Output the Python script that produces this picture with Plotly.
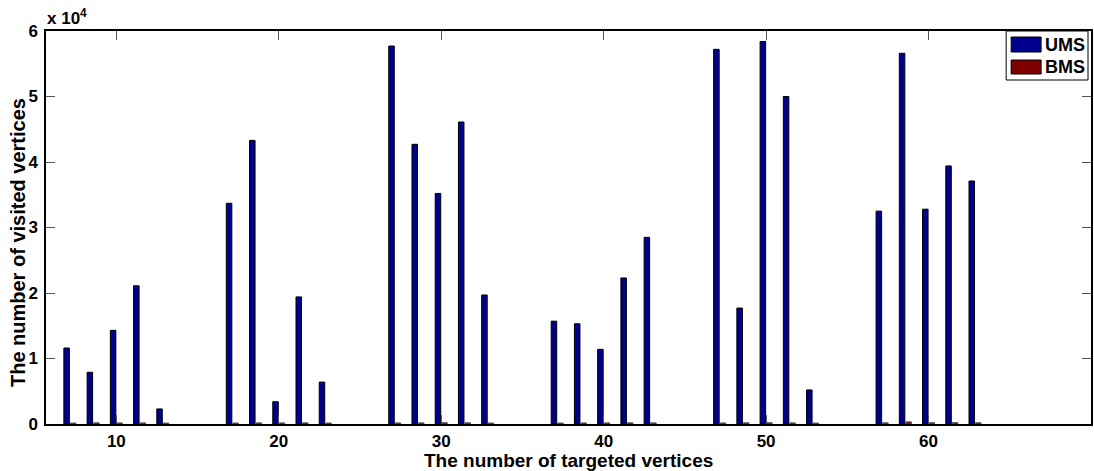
import plotly.graph_objects as go

# ---- data ----
x_pos = [7.14, 8.57, 10.0, 11.43, 12.86,
         17.14, 18.57, 20.0, 21.43, 22.86,
         27.14, 28.57, 30.0, 31.43, 32.86,
         37.14, 38.57, 40.0, 41.43, 42.86,
         47.14, 48.57, 50.0, 51.43, 52.86,
         57.14, 58.57, 60.0, 61.43, 62.86]
ums = [11600, 7900, 14300, 21100, 2300,
       33700, 43300, 3400, 19400, 6400,
       57700, 42700, 35200, 46100, 19700,
       15700, 15300, 11400, 22300, 28500,
       57200, 17700, 58400, 50000, 5200,
       32500, 56600, 32800, 39400, 37100]
bms = [150, 180, 160, 170, 140,
       150, 170, 160, 180, 150,
       160, 170, 200, 180, 150,
       150, 160, 170, 180, 170,
       160, 180, 190, 170, 140,
       180, 320, 200, 210, 190]
y_ticks = [0, 10000, 20000, 30000, 40000, 50000, 60000]
y_tick_text = ["0", "1", "2", "3", "4", "5", "6"]
x_ticks = [10, 20, 30, 40, 50, 60]
series_names = ["UMS", "BMS"]
colors = ["#00008F", "#800000"]

FONT = "Liberation Sans, Arial, sans-serif"
W, H = 1094, 471
L, R, T, B = 46, 1093, 31, 424  # plot area in px


def px(xp):
    return (xp - L) / (R - L)


def py(yp):
    return (B - yp) / (B - T)


fig = go.Figure()
fig.add_trace(go.Bar(x=x_pos, y=ums, name=series_names[0], width=0.34, offset=-0.37,
                     marker=dict(color=colors[0], line=dict(color="black", width=1)),
                     showlegend=False))
fig.add_trace(go.Bar(x=x_pos, y=bms, name=series_names[1], width=0.34, offset=0.03,
                     marker=dict(color=colors[1], line=dict(color="#555555", width=1)),
                     showlegend=False))

tick_font = dict(family=FONT, size=17, color="black", weight="bold")
axis_common = dict(showline=True, linecolor="black", linewidth=1.5, mirror="ticks",
                   ticks="inside", ticklen=9, tickcolor="#555555", tickwidth=1,
                   showgrid=False, zeroline=False, tickfont=tick_font)

fig.update_layout(
    width=W, height=H,
    margin=dict(l=L, r=W - R, t=T, b=H - B, pad=0),
    paper_bgcolor="white", plot_bgcolor="white",
    barmode="overlay",
    font=dict(family=FONT, color="black"),
    xaxis=dict(range=[5.67, 70], tickvals=x_ticks, ticktext=[str(v) for v in x_ticks],
               ticklabelstandoff=1, **axis_common),
    yaxis=dict(range=[0, 60000], tickvals=y_ticks, ticktext=y_tick_text,
               ticklabelstandoff=3, **axis_common),
)

annotations = [
    dict(text="<b>The number of targeted vertices</b>", xref="paper", yref="paper",
         x=px(570), y=py(460), xanchor="center", yanchor="middle", showarrow=False,
         font=dict(family=FONT, size=19, color="black")),
    dict(text="<b>The number of visited vertices</b>", xref="paper", yref="paper",
         x=px(18), y=py(243), xanchor="center", yanchor="middle", showarrow=False,
         textangle=-90, font=dict(family=FONT, size=20, color="black")),
    dict(text="<b>x 10<sup>4</sup></b>", xref="paper", yref="paper",
         x=px(45), y=py(30), xanchor="left", yanchor="bottom", showarrow=False,
         font=dict(family=FONT, size=17, color="black")),
]

# legend drawn as a box with patches
shapes = [dict(type="rect", xref="paper", yref="paper",
               x0=px(1008), x1=px(1090), y0=py(80), y1=py(31),
               line=dict(color="black", width=1), fillcolor="white", layer="above")]
patch_rows = [(37, 52), (60, 74)]
for (y0, y1), name, col in zip(patch_rows, series_names, colors):
    shapes.append(dict(type="rect", xref="paper", yref="paper",
                       x0=px(1013), x1=px(1043), y0=py(y1), y1=py(y0),
                       line=dict(color="black", width=1), fillcolor=col, layer="above"))
    annotations.append(dict(text=f"<b>{name}</b>", xref="paper", yref="paper",
                            x=px(1045), y=py((y0 + y1) / 2), xanchor="left", yanchor="middle",
                            showarrow=False, font=dict(family=FONT, size=18, color="black")))

fig.update_layout(annotations=annotations, shapes=shapes)
fig.write_html("out.html")
